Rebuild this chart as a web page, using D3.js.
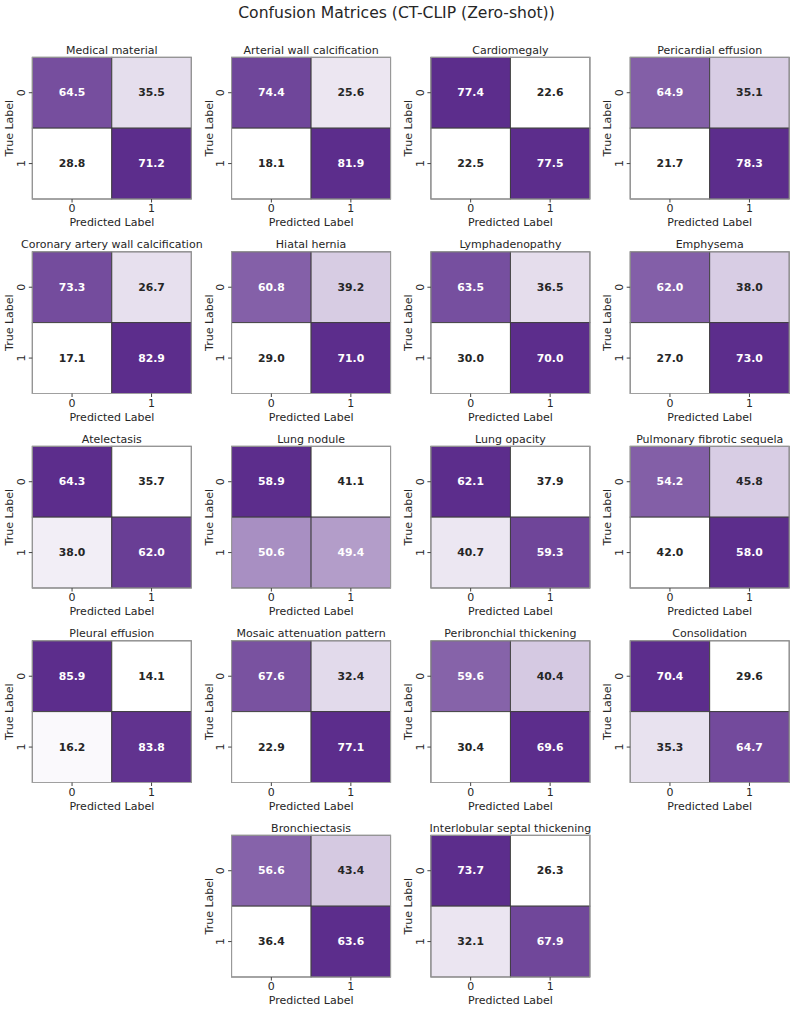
<!DOCTYPE html>
<html>
<head>
<meta charset="utf-8">
<script src="https://cdn.jsdelivr.net/npm/d3@7"></script>
<style>
  body { margin: 0; background: #fff; }
  svg { display: block; font-family: "DejaVu Sans", sans-serif; }
</style>
</head>
<body>
<svg id="chart" width="793" height="1010"></svg>
<script>
// ---------- data ----------
const figureTitle = "Confusion Matrices (CT-CLIP (Zero-shot))";
const conditions = [
  "Medical material", "Arterial wall calcification", "Cardiomegaly", "Pericardial effusion",
  "Coronary artery wall calcification", "Hiatal hernia", "Lymphadenopathy", "Emphysema",
  "Atelectasis", "Lung nodule", "Lung opacity", "Pulmonary fibrotic sequela",
  "Pleural effusion", "Mosaic attenuation pattern", "Peribronchial thickening", "Consolidation",
  "Bronchiectasis", "Interlobular septal thickening"
];
// row-major [TN, FP, FN, TP] in percent
const matrixValues = [
  [64.5, 35.5, 28.8, 71.2],
  [74.4, 25.6, 18.1, 81.9],
  [77.4, 22.6, 22.5, 77.5],
  [64.9, 35.1, 21.7, 78.3],
  [73.3, 26.7, 17.1, 82.9],
  [60.8, 39.2, 29.0, 71.0],
  [63.5, 36.5, 30.0, 70.0],
  [62.0, 38.0, 27.0, 73.0],
  [64.3, 35.7, 38.0, 62.0],
  [58.9, 41.1, 50.6, 49.4],
  [62.1, 37.9, 40.7, 59.3],
  [54.2, 45.8, 42.0, 58.0],
  [85.9, 14.1, 16.2, 83.8],
  [67.6, 32.4, 22.9, 77.1],
  [59.6, 40.4, 30.4, 69.6],
  [70.4, 29.6, 35.3, 64.7],
  [56.6, 43.4, 36.4, 63.6],
  [73.7, 26.3, 32.1, 67.9]
];
const classLabels = ["0", "1"];
const xAxisTitle = "Predicted Label";
const yAxisTitle = "True Label";

// ---------- layout ----------
const svg = d3.select("#chart");
const W = 793;
const cellW = 159, cellH = 141.7;
const left0 = 32.3, colStep = 199.3;
const top0 = 57.3, rowStep = 194.5;
const textDark = "#262626";
const lowColor = "#ffffff", highColor = "#5c2d8c";

svg.append("text")
  .attr("x", W / 2).attr("y", 17.5)
  .attr("text-anchor", "middle")
  .attr("font-size", 15.6)
  .attr("fill", textDark)
  .text(figureTitle);

function luminance(c) {
  const rgb = d3.rgb(c);
  const f = v => { v /= 255; return v <= 0.03928 ? v / 12.92 : Math.pow((v + 0.055) / 1.055, 2.4); };
  return 0.2126 * f(rgb.r) + 0.7152 * f(rgb.g) + 0.0722 * f(rgb.b);
}

conditions.forEach((name, i) => {
  const row = Math.floor(i / 4);
  let col = i % 4;
  if (row === 4) col = col + 1; // last row centered
  const x0 = left0 + col * colStep;
  const y0 = top0 + row * rowStep;
  const g = svg.append("g").attr("transform", `translate(${x0},${y0})`);

  const x = d3.scaleBand().domain(classLabels).range([0, cellW]);
  const y = d3.scaleBand().domain(classLabels).range([0, cellH]);
  const vals = matrixValues[i];
  const color = d3.scaleLinear().domain([d3.min(vals), d3.max(vals)])
    .range([lowColor, highColor]).interpolate(d3.interpolateRgb);

  const cells = [];
  classLabels.forEach((t, r) => classLabels.forEach((p, c) => cells.push({ t, p, v: vals[r * 2 + c] })));

  g.selectAll("rect.cell").data(cells).enter().append("rect")
    .attr("class", "cell")
    .attr("x", d => x(d.p)).attr("y", d => y(d.t))
    .attr("width", x.bandwidth()).attr("height", y.bandwidth())
    .attr("fill", d => color(d.v))
    .attr("stroke", "#3c3c3c").attr("stroke-width", 0.9);

  g.selectAll("text.val").data(cells).enter().append("text")
    .attr("class", "val")
    .attr("x", d => x(d.p) + x.bandwidth() / 2)
    .attr("y", d => y(d.t) + y.bandwidth() / 2)
    .attr("text-anchor", "middle")
    .attr("dominant-baseline", "central")
    .attr("font-size", 10.8).attr("font-weight", "bold")
    .attr("fill", d => luminance(color(d.v)) > 0.408 ? textDark : "#ffffff")
    .text(d => d.v.toFixed(1));

  // frame
  g.append("rect").attr("x", 0).attr("y", 0).attr("width", cellW).attr("height", cellH)
    .attr("fill", "none").attr("stroke", "#a0a0a0").attr("stroke-width", 1);

  // bottom axis
  const xa = g.append("g").attr("transform", `translate(0,${cellH})`)
    .call(d3.axisBottom(x).tickSize(3.5).tickPadding(2));
  xa.select(".domain").remove();
  xa.selectAll("line").attr("stroke", "#444");
  xa.selectAll("text").attr("font-size", 11).attr("fill", textDark).attr("font-family", "DejaVu Sans");

  // left axis
  const ya = g.append("g").call(d3.axisLeft(y).tickSize(3.5).tickFormat(""));
  ya.select(".domain").remove();
  ya.selectAll("line").attr("stroke", "#444");
  g.selectAll("text.ytick").data(classLabels).enter().append("text")
    .attr("class", "ytick")
    .attr("transform", d => `translate(-7.3,${y(d) + y.bandwidth() / 2}) rotate(-90)`)
    .attr("text-anchor", "middle")
    .attr("font-size", 11).attr("fill", textDark)
    .text(d => d);

  // titles
  g.append("text").attr("x", cellW / 2).attr("y", -3.5)
    .attr("text-anchor", "middle").attr("font-size", 11).attr("fill", textDark)
    .text(name);
  g.append("text").attr("x", cellW / 2).attr("y", cellH + 27.3)
    .attr("text-anchor", "middle").attr("font-size", 11).attr("fill", textDark)
    .text(xAxisTitle);
  g.append("text")
    .attr("transform", `translate(-19,${cellH / 2}) rotate(-90)`)
    .attr("text-anchor", "middle").attr("font-size", 11).attr("fill", textDark)
    .text(yAxisTitle);
});
</script>
</body>
</html>
